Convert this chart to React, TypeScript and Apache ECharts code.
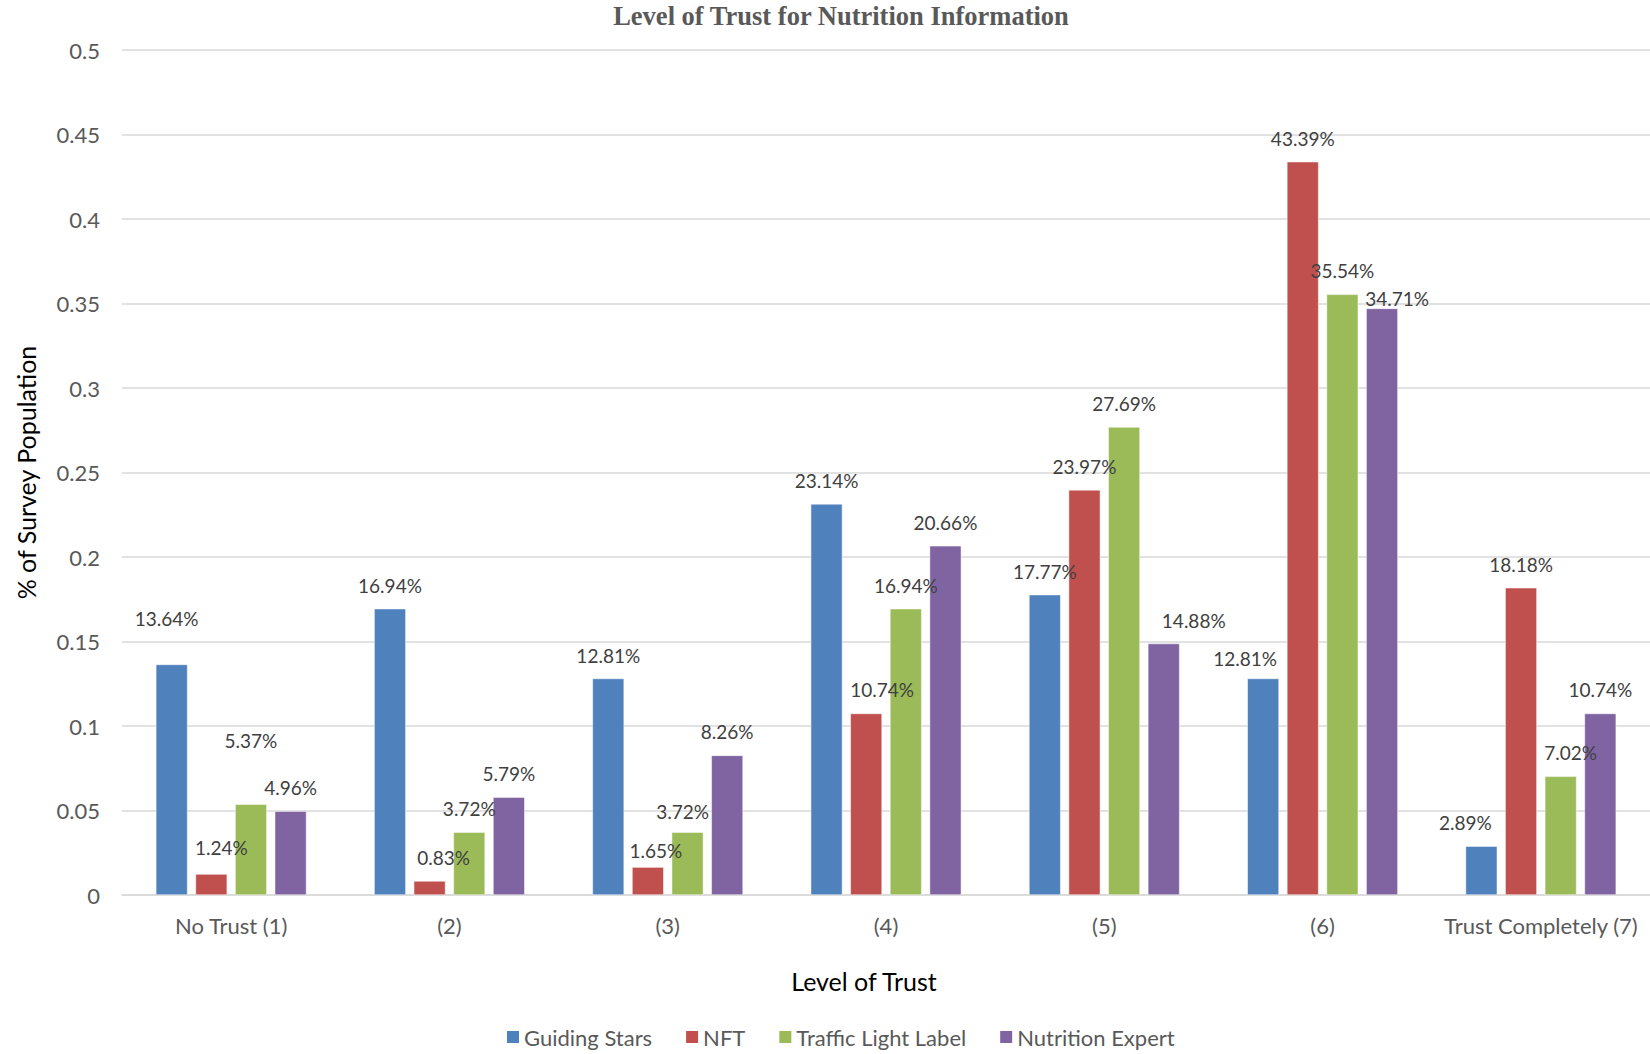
import { useEffect, useRef } from "react";
import * as echarts from "echarts";

// Survey shares per level of trust, one array per information source
const categories = ["No Trust (1)", "(2)", "(3)", "(4)", "(5)", "(6)", "Trust Completely (7)"];
const guidingStars = [0.1364, 0.1694, 0.1281, 0.2314, 0.1777, 0.1281, 0.0289];
const nft = [0.0124, 0.0083, 0.0165, 0.1074, 0.2397, 0.4339, 0.1818];
const trafficLightLabel = [0.0537, 0.0372, 0.0372, 0.1694, 0.2769, 0.3554, 0.0702];
const nutritionExpert = [0.0496, 0.0579, 0.0826, 0.2066, 0.1488, 0.3471, 0.1074];

const seriesNames = ["Guiding Stars", "NFT", "Traffic Light Label", "Nutrition Expert"];
const seriesColors = ["#4F81BD", "#C0504D", "#9BBB59", "#8064A2"];

// Hand-placed label nudges [dx, dy] per category, so overlapping labels stay readable
const guidingStarsNudge = [[-5, -22], [0, 0], [0, 0], [0, 0], [0, 0], [-18, 3], [-16, 0]];
const nftNudge = [[10, -3], [14, 0], [8, 7], [16, 0], [0, 0], [0, 0], [0, 0]];
const trafficLightNudge = [[0, -40], [0, 0], [-5, 3], [0, 0], [0, 0], [0, 0], [10, 0]];
const nutritionExpertNudge = [[0, 0], [0, 0], [0, 0], [0, 0], [30, 0], [15, 14], [0, 0]];

const FONT = "Lato, 'Open Sans', sans-serif";

function buildData(values: number[], nudges: number[][]) {
  return values.map((v, i) => {
    const [dx, dy] = nudges[i];
    if (dx === 0 && dy === 0) return v;
    return { value: v, label: { offset: [dx, dy] } };
  });
}

export default function App() {
  const ref = useRef<HTMLDivElement>(null);

  useEffect(() => {
    if (!ref.current) return;
    const chart = echarts.init(ref.current, undefined, { renderer: "svg" });

    const valueSets = [guidingStars, nft, trafficLightLabel, nutritionExpert];
    const nudgeSets = [guidingStarsNudge, nftNudge, trafficLightNudge, nutritionExpertNudge];

    chart.setOption({
      animation: false,
      backgroundColor: "#FFFFFF",
      title: {
        text: "Level of Trust for Nutrition Information",
        left: 836,
        top: -3,
        textAlign: "center",
        textStyle: {
          fontFamily: "'Liberation Serif', 'DejaVu Serif', serif",
          fontWeight: "bold",
          fontSize: 26.5,
          color: "#595959",
        },
      },
      legend: {
        data: seriesNames,
        bottom: 1,
        left: 500,
        itemWidth: 14,
        itemHeight: 14,
        itemGap: 32,
        icon: "rect",
        textStyle: { fontFamily: FONT, fontSize: 22, color: "#595959", padding: [0, 0, 0, -1] },
      },
      grid: {
        left: 122,
        right: -3,
        top: 50,
        bottom: 159,
        containLabel: false,
      },
      xAxis: {
        type: "category",
        data: categories,
        name: "Level of Trust",
        nameLocation: "middle",
        nameGap: 73,
        nameTextStyle: { fontFamily: FONT, fontSize: 25, color: "#000000", padding: [0, 44, 0, 0] },
        axisLine: { show: true, lineStyle: { color: "#D9D9D9", width: 1.5 } },
        axisTick: { show: false },
        axisLabel: {
          fontFamily: FONT,
          fontSize: 22,
          color: "#595959",
          margin: 19,
          interval: 0,
        },
      },
      yAxis: {
        type: "value",
        min: 0,
        max: 0.5,
        interval: 0.05,
        name: "% of Survey Population",
        nameLocation: "middle",
        nameGap: 84,
        nameRotate: 90,
        nameTextStyle: { fontFamily: FONT, fontSize: 25, color: "#000000" },
        axisLine: { show: false },
        axisTick: { show: false },
        axisLabel: {
          fontFamily: FONT,
          fontSize: 22,
          color: "#595959",
          margin: 22,
          formatter: (v: number) => String(+v.toFixed(2)),
        },
        splitLine: { show: true, lineStyle: { color: "#D9D9D9", width: 1.5 } },
      },
      series: seriesNames.map((name, k) => ({
        name,
        type: "bar",
        data: buildData(valueSets[k], nudgeSets[k]),
        barGap: "25%",
        barCategoryGap: "31%",
        itemStyle: { color: seriesColors[k], borderColor: "#FFFFFF", borderWidth: 0.5 },
        label: {
          show: true,
          position: "top",
          distance: 14,
          fontFamily: FONT,
          fontSize: 19,
          color: "#404040",
          formatter: (p: any) => (p.value * 100).toFixed(2) + "%",
        },
      })),
    });

    return () => chart.dispose();
  }, []);

  return (
    <div
      ref={ref}
      style={{ position: "absolute", left: 0, top: 0, width: 1650, height: 1054 }}
    />
  );
}
